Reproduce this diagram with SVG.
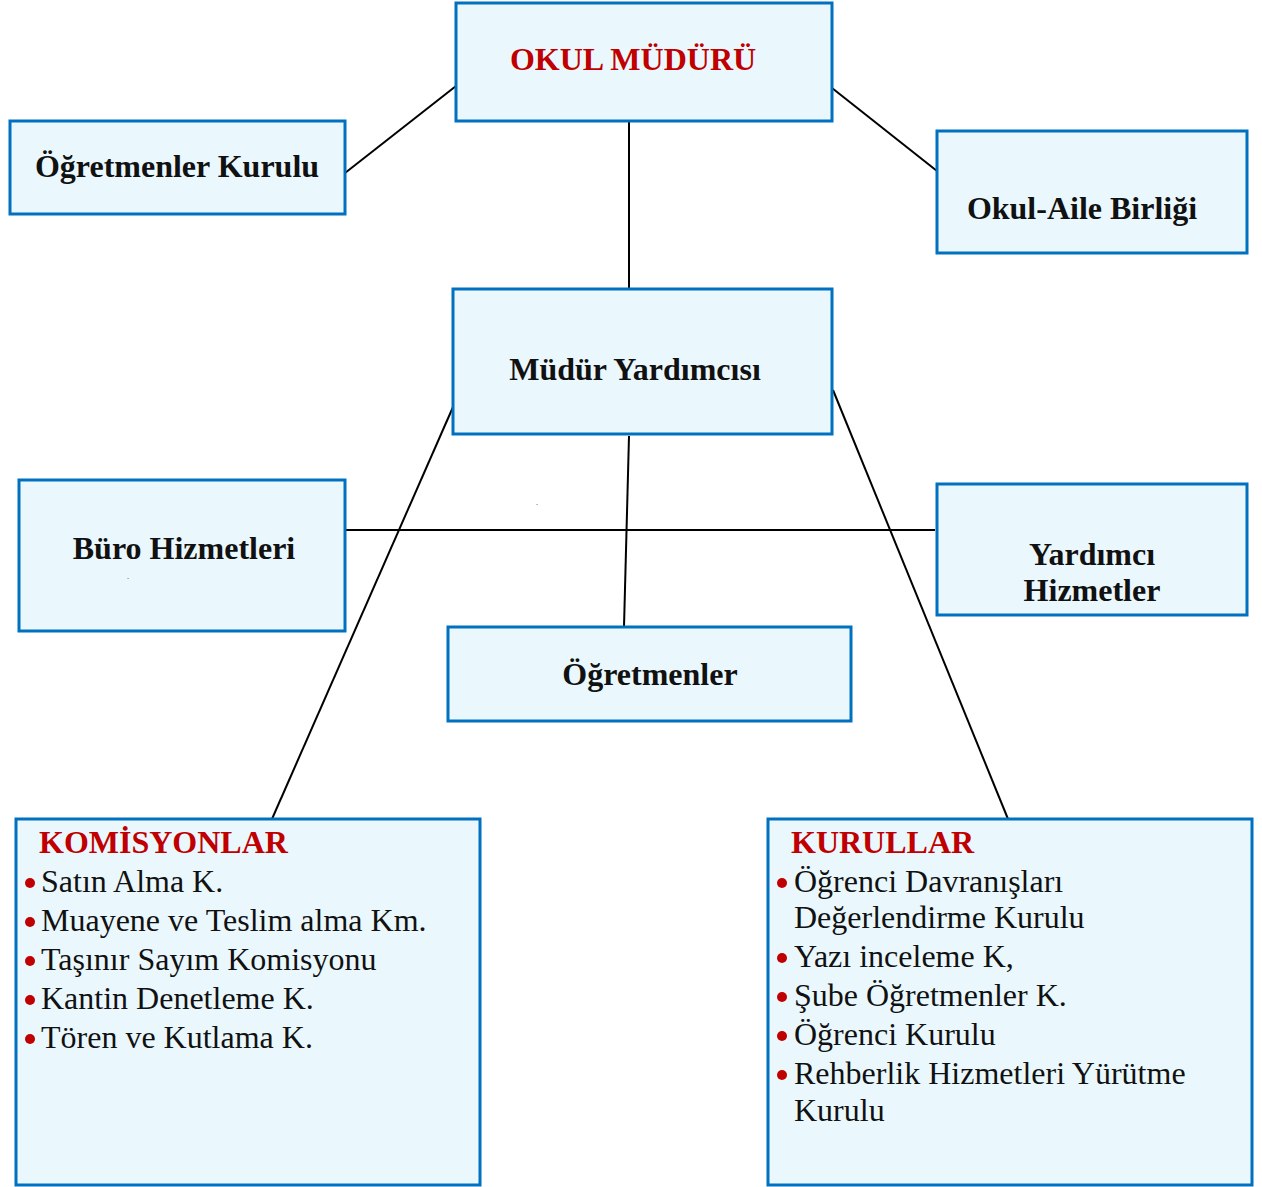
<svg xmlns="http://www.w3.org/2000/svg" width="1262" height="1187" viewBox="0 0 1262 1187">
<style>
.box{fill:#eaf8fe;stroke:#0070c0;stroke-width:3}
.t{font-family:"Liberation Serif","Times New Roman",serif;font-weight:bold;font-size:32px;fill:#111;text-anchor:middle}
.red{fill:#c00000}
.h{font-family:"Liberation Serif","Times New Roman",serif;font-weight:bold;font-size:32px;fill:#c00000}
.i{font-family:"Liberation Serif","Times New Roman",serif;font-size:32px;fill:#111}
.d{font-family:"Liberation Serif","Times New Roman",serif;font-size:8px;fill:#111}
.b{fill:#c00000}
.c{stroke:#000;stroke-width:2;fill:none}
</style>
<rect width="1262" height="1187" fill="#fff"/>
<g id="connectors">
<line class="c" x1="456" y1="86" x2="345" y2="173"/>
<line class="c" x1="832" y1="88" x2="937" y2="171"/>
<line class="c" x1="629" y1="121" x2="629" y2="289"/>
<line class="c" x1="629" y1="436" x2="624" y2="627"/>
<line class="c" x1="453" y1="407" x2="272" y2="819"/>
<line class="c" x1="833" y1="390" x2="1008" y2="819"/>
<line class="c" x1="345" y1="530" x2="935" y2="530"/>
</g>
<g id="okul-muduru">
<rect class="box" x="456" y="3" width="376" height="118"/>
<text class="t red" x="633" y="70">OKUL MÜDÜRÜ</text>
</g>
<g id="ogretmenler-kurulu">
<rect class="box" x="10" y="121" width="335" height="93"/>
<text class="t" x="177" y="177">Öğretmenler Kurulu</text>
</g>
<g id="okul-aile-birligi">
<rect class="box" x="937" y="131" width="310" height="122"/>
<text class="t" x="1082" y="219">Okul-Aile Birliği</text>
</g>
<g id="mudur-yardimcisi">
<rect class="box" x="453" y="289" width="379" height="145"/>
<text class="t" x="635" y="380">Müdür Yardımcısı</text>
</g>
<text class="d" x="536" y="505">.</text>
<g id="buro-hizmetleri">
<rect class="box" x="19" y="480" width="326" height="151"/>
<text class="t" x="184" y="559">Büro Hizmetleri</text>
<text class="d" x="127" y="579">.</text>
</g>
<g id="yardimci-hizmetler">
<rect class="box" x="937" y="484" width="310" height="131"/>
<text class="t" x="1092" y="565">Yardımcı</text>
<text class="t" x="1092" y="601">Hizmetler</text>
</g>
<g id="ogretmenler">
<rect class="box" x="448" y="627" width="403" height="94"/>
<text class="t" x="650" y="685">Öğretmenler</text>
</g>
<g id="komisyonlar">
<rect class="box" x="16" y="819" width="464" height="366"/>
<text class="h" x="39" y="853">KOMİSYONLAR</text>
<circle class="b" cx="30" cy="883" r="5"/>
<circle class="b" cx="30" cy="922" r="5"/>
<circle class="b" cx="30" cy="961" r="5"/>
<circle class="b" cx="30" cy="1000" r="5"/>
<circle class="b" cx="30" cy="1039" r="5"/>
<text class="i" x="41" y="892">Satın Alma K.</text>
<text class="i" x="41" y="931">Muayene ve Teslim alma Km.</text>
<text class="i" x="41" y="970">Taşınır Sayım Komisyonu</text>
<text class="i" x="41" y="1009">Kantin Denetleme K.</text>
<text class="i" x="41" y="1048">Tören ve Kutlama K.</text>
</g>
<g id="kurullar">
<rect class="box" x="768" y="819" width="484" height="366"/>
<text class="h" x="791" y="853">KURULLAR</text>
<circle class="b" cx="782" cy="883" r="5"/>
<circle class="b" cx="782" cy="958" r="5"/>
<circle class="b" cx="782" cy="997" r="5"/>
<circle class="b" cx="782" cy="1036" r="5"/>
<circle class="b" cx="782" cy="1075" r="5"/>
<text class="i" x="794" y="892">Öğrenci Davranışları</text>
<text class="i" x="794" y="928">Değerlendirme Kurulu</text>
<text class="i" x="794" y="967">Yazı inceleme K,</text>
<text class="i" x="794" y="1006">Şube Öğretmenler K.</text>
<text class="i" x="794" y="1045">Öğrenci Kurulu</text>
<text class="i" x="794" y="1084">Rehberlik Hizmetleri Yürütme</text>
<text class="i" x="794" y="1121">Kurulu</text>
</g>
</svg>
